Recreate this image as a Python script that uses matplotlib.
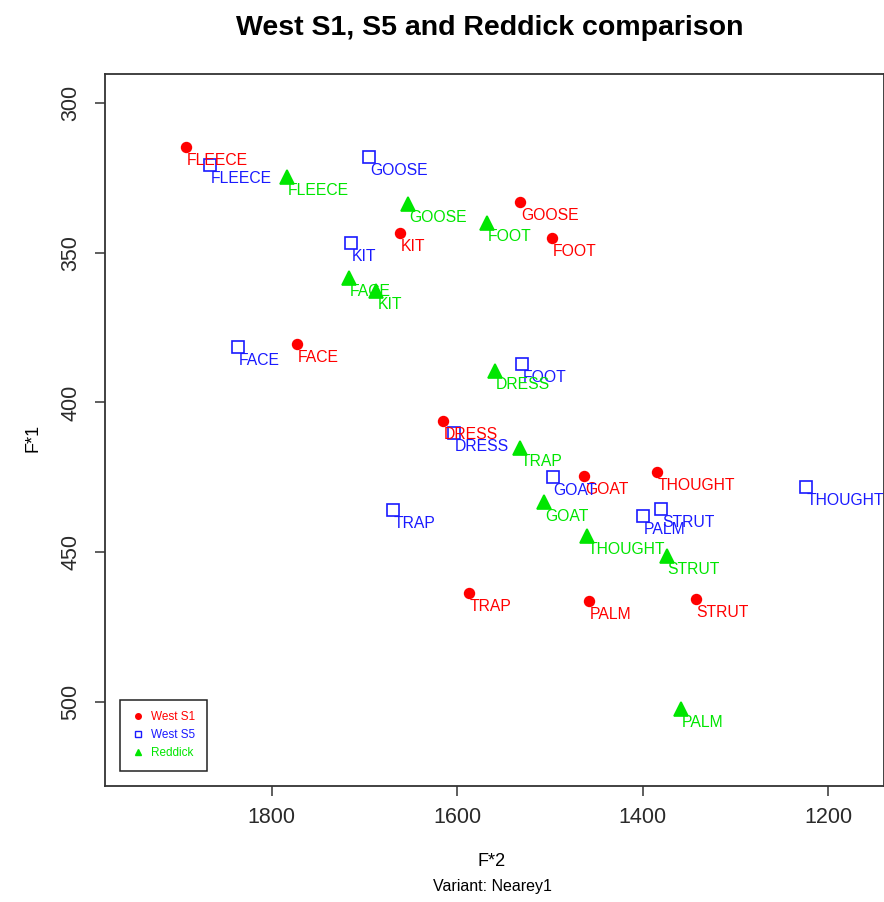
import matplotlib
matplotlib.use("Agg")
import matplotlib.pyplot as plt
from matplotlib.lines import Line2D

plt.rcParams['font.family'] = ['Liberation Sans', 'DejaVu Sans']

# vowel categories (same order in every series)
vowels = ["FLEECE", "GOOSE", "FOOT", "KIT", "FACE", "DRESS",
          "GOAT", "THOUGHT", "TRAP", "PALM", "STRUT"]

# West S1
s1_f2 = [1892, 1532, 1498, 1662, 1773, 1615, 1463, 1385, 1587, 1458, 1343]
s1_f1 = [314.7, 332.9, 344.9, 343.2, 380.4, 406.1, 424.6, 423.2, 463.6, 466.2, 465.8]

# West S5
s5_f2 = [1867, 1695, 1530, 1715, 1836, 1603, 1497, 1224, 1669, 1400, 1380]
s5_f1 = [320.6, 317.8, 387.2, 346.8, 381.4, 410.1, 424.8, 428.1, 435.9, 437.8, 435.6]

# Reddick
rd_f2 = [1784, 1653, 1568, 1687, 1717, 1559, 1506, 1460, 1532, 1359, 1374]
rd_f1 = [324.5, 333.7, 339.9, 362.6, 358.5, 389.5, 433.4, 444.6, 415.3, 502.4, 451.3]

series_names = ["West S1", "West S5", "Reddick"]
x_ticks = [1800, 1600, 1400, 1200]
y_ticks = [300, 350, 400, 450, 500]


def draw_series(ax, xs, ys, color, marker, ms, filled):
    ax.plot(xs, ys, linestyle="none", marker=marker, markersize=ms,
            color=color, markerfacecolor=color if filled else "none",
            markeredgewidth=1.2, clip_on=False)
    for x, y, lab in zip(xs, ys, vowels):
        ax.annotate(lab, (x, y), xytext=(0.6, -9.8), textcoords="offset points",
                    ha="left", va="center", color=color, fontsize=11.3,
                    annotation_clip=False)


fig = plt.figure(figsize=(8.84, 9.02), dpi=100)
ax = fig.add_axes([105 / 884, 1 - 786 / 902, 779 / 884, 712 / 902])

draw_series(ax, s1_f2, s1_f1, "#ff0000", "o", 7, True)
draw_series(ax, s5_f2, s5_f1, "#1a1aff", "s", 8, False)
draw_series(ax, rd_f2, rd_f1, "#00e600", "^", 9.5, True)

ax.set_xlim(1979.7, 1139.8)
ax.set_ylim(528.2, 290.2)

ax.set_xticks(x_ticks)
ax.set_yticks(y_ticks)
ax.set_yticklabels([str(v) for v in y_ticks], rotation=90, va="center")
ax.tick_params(axis="both", direction="out", length=7, width=1.1,
               color="#333333", labelsize=15.5, labelcolor="#2a2a2a")
ax.tick_params(axis="x", pad=8)
ax.tick_params(axis="y", pad=10)

for side in ["left", "bottom", "top", "right"]:
    ax.spines[side].set_color("#333333")
    ax.spines[side].set_linewidth(1.3)

# legend
handles = [
    Line2D([], [], linestyle="none", marker="o", markersize=4, color="#ff0000"),
    Line2D([], [], linestyle="none", marker="s", markersize=4.5, color="#1a1aff",
           markerfacecolor="none", markeredgewidth=1),
    Line2D([], [], linestyle="none", marker="^", markersize=5, color="#00e600"),
]
leg = ax.legend(handles, series_names, loc="lower left",
                bbox_to_anchor=(15 / 779, 15 / 712), fontsize=8.5,
                labelcolor=["#ff0000", "#1a1aff", "#00e600"],
                fancybox=False, framealpha=1, edgecolor="#222222",
                handlelength=1.0, handletextpad=0.6, borderpad=1.0,
                labelspacing=0.5, borderaxespad=0)
leg.get_frame().set_linewidth(1.1)

fig.text(490 / 884, 1 - 28 / 902, "West S1, S5 and Reddick comparison",
         ha="center", va="center", fontsize=20.5, fontweight="bold")
fig.text(492 / 884, 1 - 862 / 902, "F*2", ha="center", va="center", fontsize=13)
fig.text(492 / 884, 1 - 886 / 902, "Variant: Nearey1", ha="center", va="center",
         fontsize=11.5)
fig.text(33 / 884, 1 - 438 / 902, "F*1", ha="center", va="center", fontsize=13,
         rotation=90)

plt.savefig("out.png", dpi=100)
